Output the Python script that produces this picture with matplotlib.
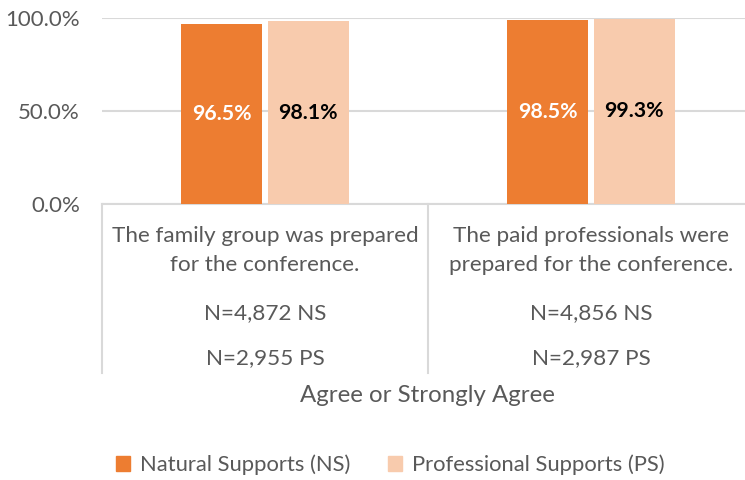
import matplotlib
matplotlib.use("Agg")
import matplotlib.pyplot as plt
import matplotlib.transforms as mtransforms
from matplotlib.patches import Patch
from matplotlib.ticker import PercentFormatter

categories = ["The family group was prepared\nfor the conference.",
              "The paid professionals were\nprepared for the conference."]
n_ns = ["N=4,872 NS", "N=4,856 NS"]
n_ps = ["N=2,955 PS", "N=2,987 PS"]
ns_values = [96.5, 98.5]
ps_values = [98.1, 99.3]
series_names = ["Natural Supports (NS)", "Professional Supports (PS)"]
axis_title = "Agree or Strongly Agree"
yticks = [0, 50, 100]

plt.rcParams['font.family'] = ['Lato', 'DejaVu Sans']
W, H = 745, 480
fig = plt.figure(figsize=(W/100, H/100), dpi=100)
left, right, top, bottom = 102, 754, 17.5, 204
ax = fig.add_axes([left/W, 1-bottom/H, (right-left)/W, (bottom-top)/H])

ns_col = "#ED7D31"
ps_col = "#F8CBAD"
txt_col = "#595959"
grid_col = "#D9D9D9"

x = list(range(len(categories)))
off, bw = 0.133, 0.25
b1 = ax.bar([i - off for i in x], ns_values, width=bw, color=ns_col, zorder=3)
b2 = ax.bar([i + off for i in x], ps_values, width=bw, color=ps_col, zorder=3)
for i in x:
    ax.text(i - off, ns_values[i]/2, f"{ns_values[i]:.1f}%", ha="center", va="center",
            color="white", fontsize=15.3, fontweight="bold", zorder=4)
    ax.text(i + off, ps_values[i]/2, f"{ps_values[i]:.1f}%", ha="center", va="center",
            color="black", fontsize=15.3, fontweight="bold", zorder=4)

ax.set_xlim(-0.5, len(categories) - 0.5)
ax.set_ylim(0, 100)
ax.set_yticks(yticks)
ax.yaxis.set_major_formatter(PercentFormatter(decimals=1))
ax.tick_params(axis="y", length=0, labelsize=16, labelcolor=txt_col, pad=16)
ax.set_xticks([])
ax.grid(axis="y", color=grid_col, linewidth=1.5, zorder=0)
for s in ["left", "right", "top"]:
    ax.spines[s].set_visible(False)
ax.spines["bottom"].set_color(grid_col)
ax.spines["bottom"].set_linewidth(1.5)

trans = mtransforms.blended_transform_factory(ax.transData, fig.transFigure)
def fy(py):
    return 1 - py / H
# separators
for xs in [-0.5, 0.5, 1.5]:
    ax.plot([xs, xs], [fy(bottom), fy(373)], transform=trans, color=grid_col,
            linewidth=1.5, clip_on=False)
for i in x:
    ax.text(i, fy(250.5), categories[i], transform=trans, ha="center", va="center",
            fontsize=16.2, color=txt_col, linespacing=1.55)
    ax.text(i, fy(313), n_ns[i], transform=trans, ha="center", va="center",
            fontsize=16.2, color=txt_col)
    ax.text(i, fy(358), n_ps[i], transform=trans, ha="center", va="center",
            fontsize=16.2, color=txt_col)

fig.text(427/W, fy(396), axis_title, ha="center", va="center", fontsize=17.3, color=txt_col)

handles = [Patch(color=ns_col), Patch(color=ps_col)]
leg = fig.legend(handles, series_names, loc="center", bbox_to_anchor=(390/W, fy(465)),
                 ncol=2, frameon=False, fontsize=15.8, handlelength=0.65, handleheight=0.65,
                 handletextpad=0.45, columnspacing=1.7, labelcolor=txt_col)

fig.savefig("out.png", dpi=100)
